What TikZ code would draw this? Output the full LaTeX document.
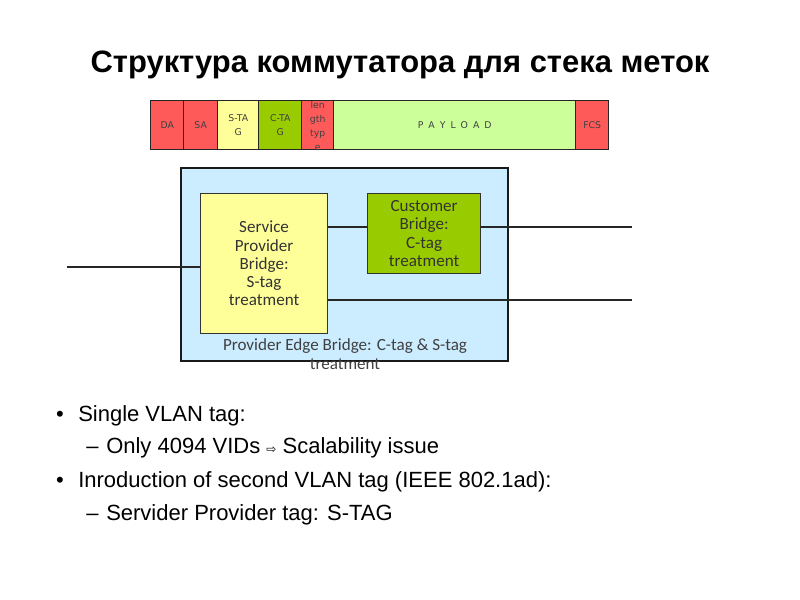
\documentclass[tikz,border=0pt]{standalone}
\usepackage{fontspec}
\setmainfont{Liberation Sans}
\newfontfamily\bridgefont{Carlito}
\newfontfamily\fieldfont{DejaVu Sans}
\newfontfamily\symfont{DejaVu Sans}
\newdimen\px \px=0.75pt
\definecolor{fieldred}{HTML}{FF5A5A}
\definecolor{tagyellow}{HTML}{FFFF99}
\definecolor{taggreen}{HTML}{99CC00}
\definecolor{payloadgreen}{HTML}{CCFF99}
\definecolor{edgeblue}{HTML}{CCECFF}
\tikzset{
  field/.style={draw=black!85, line width=1.1pt, minimum height=49\px, inner sep=0pt,
    anchor=north west, align=center, text=black!75,
    font=\fieldfont\fontsize{7}{10.5}\selectfont},
  bridge/.style={draw=black!80, line width=0.9pt, inner sep=0pt, anchor=north west,
    align=center, text=black!80, font=\bridgefont\fontsize{12.8}{13.7}\selectfont},
  link/.style={line width=1.1pt, black!85},
  bullet/.style={anchor=base west, inner sep=0pt, font=\fontsize{16.5}{19}\selectfont}
}
\begin{document}
\begin{tikzpicture}[x=\px,y=-\px]
\useasboundingbox (0,0) rectangle (800,600);
% title
\node[anchor=base, inner sep=0pt, font=\bfseries\fontsize{23.2}{27}\selectfont] (title) at (400,72)
  {Структура коммутатора для стека меток};
% frame with the two tags
\node[field, fill=fieldred, minimum width=33\px] (da) at (150,100) {DA};
\node[field, fill=fieldred, minimum width=34\px] (sa) at (183,100) {SA};
\node[field, fill=tagyellow, minimum width=41\px] (stag) at (217,100) {S-TA\\G};
\node[field, fill=taggreen, minimum width=43\px] (ctag) at (258,100) {C-TA\\G};
\node[field, fill=fieldred, minimum width=32\px] (len) at (301,100) {};
\node[field, draw=none, anchor=center] (lenlabel) at ([yshift=-1\px]len.center) {len\\gth\\typ\\e};
\node[field, fill=payloadgreen, minimum width=242\px] (payload) at (333,100)
  {P\hspace{5\px}A\hspace{5\px}Y\hspace{5\px}L\hspace{5\px}O\hspace{5\px}A\hspace{5\px}D};
\node[field, fill=fieldred, minimum width=33\px] (fcs) at (575,100) {FCS};
% provider edge bridge
\node[draw=black!90, line width=1.4pt, fill=edgeblue, anchor=north west, minimum width=327\px,
  minimum height=193\px, inner sep=0pt] (edge) at (180,167) {};
\node[anchor=base, inner sep=0pt, align=center, text=black!75,
  font=\bridgefont\fontsize{12.8}{14}\selectfont] (edgelabel) at (345,369)
  {Provider Edge Bridge: C-tag \& S-tag\\treatment};
\node[bridge, fill=tagyellow, minimum width=127\px, minimum height=140\px] (spb) at (200,193)
  {Service\\Provider\\Bridge:\\S-tag\\treatment};
\node[bridge, fill=taggreen, minimum width=113\px, minimum height=80\px] (cb) at (367,193)
  {Customer\\Bridge:\\C-tag\\treatment};
% ports
\coordinate (inport) at (67,267);
\coordinate (outc) at (632,227);
\coordinate (outs) at (632,300);
\draw[link] (inport) -- (inport -| spb.west);
\draw[link] (spb.east |- outc) -- (cb.west |- outc);
\draw[link] (cb.east |- outc) -- (outc);
\draw[link] (spb.east |- outs) -- (outs);
% bullets
\node[bullet] (b1) at (78,421) {Single VLAN tag:};
\node[bullet] (b2) at (106,453) {Only 4094 VIDs {\symfont\fontsize{9}{10}\selectfont ⇨} Scalability issue};
\node[bullet] (b3) at (78,487) {Inroduction of second VLAN tag (IEEE 802.1ad):};
\node[bullet] (b4) at (106,520) {Servider Provider tag: S-TAG};
\foreach \b in {b1,b3}
  \node[anchor=base east, inner sep=0pt, font=\fontsize{16.5}{19}\selectfont] at ([xshift=-14\px]\b.base west) {•};
\foreach \b in {b2,b4}
  \node[anchor=base east, inner sep=0pt, font=\fontsize{16.5}{19}\selectfont] at ([xshift=-7\px]\b.base west) {–};
\end{tikzpicture}
\end{document}
